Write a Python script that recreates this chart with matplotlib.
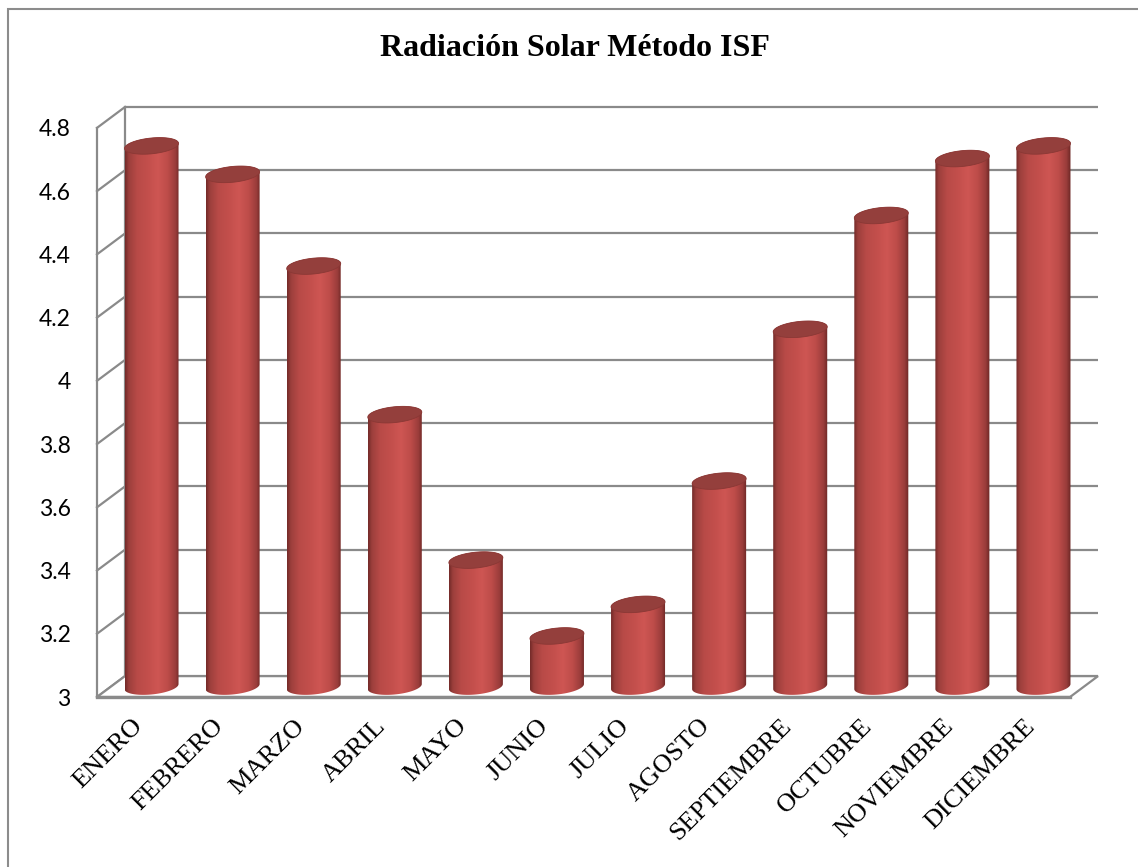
import numpy as np
import matplotlib
matplotlib.use("Agg")
import matplotlib.pyplot as plt
import matplotlib.transforms as mtransforms
from matplotlib.colors import LinearSegmentedColormap
from matplotlib.patches import Polygon, Rectangle

# ---------------- data ----------------
title = "Radiación Solar Método ISF"
months = ["ENERO", "FEBRERO", "MARZO", "ABRIL", "MAYO", "JUNIO", "JULIO",
          "AGOSTO", "SEPTIEMBRE", "OCTUBRE", "NOVIEMBRE", "DICIEMBRE"]
values = [4.71, 4.62, 4.33, 3.86, 3.40, 3.16, 3.26, 3.65, 4.13, 4.49, 4.67, 4.71]
yticks = [3.0, 3.2, 3.4, 3.6, 3.8, 4.0, 4.2, 4.4, 4.6, 4.8]
ytick_labels = ["3", "3.2", "3.4", "3.6", "3.8", "4", "4.2", "4.4", "4.6", "4.8"]

# ---------------- style / geometry ----------------
W, H = 1138, 867
DX, DY = 0.345, 0.066       # 3-D depth offset in data units
HALF_W = 0.333              # cylinder radius (x units)
ELL_B = 0.025               # ellipse semi-axis (y units)
TILT = 0.024                # ellipse tilt
GRID = "#8a8a8a"
YMIN, YMAX = yticks[0], yticks[-1]
n = len(months)

fig = plt.figure(figsize=(W / 100, H / 100), dpi=100)
fig.patch.set_facecolor("white")
ax = fig.add_axes([97 / W, (H - 697) / H, (1098 - 97) / W, (697 - 107) / H])
ax.set_facecolor("none")
for s in ax.spines.values():
    s.set_visible(False)

x0, x1 = -0.5, n - 0.5

# back wall gridlines + side-wall diagonals
for t in yticks:
    ax.plot([x0 + DX, x1 + DX], [t + DY, t + DY], color=GRID, lw=1.6,
            solid_capstyle="butt", zorder=1, clip_on=False)
    ax.plot([x0, x0 + DX], [t, t + DY], color=GRID, lw=1.6, zorder=1, clip_on=False)
ax.plot([x0 + DX, x0 + DX], [YMIN + DY, YMAX + DY], color=GRID, lw=1.6, zorder=1, clip_on=False)
ax.plot([x0, x0], [YMIN, YMAX], color=GRID, lw=1.6, zorder=1, clip_on=False)
floor = Polygon([[x0, YMIN], [x1, YMIN], [x1 + DX, YMIN + DY], [x0 + DX, YMIN + DY]],
                closed=True, fill=True, fc="white", ec=GRID, lw=1.6, zorder=1.5, clip_on=False)
ax.add_patch(floor)
ax.plot([x0, x1], [YMIN, YMIN], color=GRID, lw=2.4, zorder=1.6, clip_on=False)

# cylinder shading
side_cmap = LinearSegmentedColormap.from_list("side", [
    (0.00, "#732a28"), (0.07, "#9c3f3c"), (0.22, "#b84a47"), (0.45, "#c5504d"),
    (0.60, "#ce5653"), (0.78, "#bd4c49"), (0.92, "#9a3d3b"), (1.00, "#6b2624")])
grad = np.linspace(0, 1, 256)[None, :]
th = np.linspace(0, 2 * np.pi, 200)


def ell(cx, cy, t):
    return cx + HALF_W * np.cos(t), cy + ELL_B * np.sin(t) + TILT * HALF_W * np.cos(t)


for i, v in enumerate(values):
    cx = i + DX / 2
    yb = YMIN + DY / 2
    yt = v + DY / 2
    tb = np.linspace(np.pi, 2 * np.pi, 80)
    bx, by = ell(cx, yb, tb)
    tt = np.linspace(0, np.pi, 80)
    tx, ty = ell(cx, yt, tt)
    pts = np.column_stack([np.concatenate([bx, tx]), np.concatenate([by, ty])])
    poly = Polygon(pts, closed=True, fc="none", ec="none", zorder=3)
    ax.add_patch(poly)
    im = ax.imshow(grad, cmap=side_cmap, aspect="auto", interpolation="bilinear",
                   extent=[cx - HALF_W, cx + HALF_W, yb - 2 * ELL_B, yt + 2 * ELL_B],
                   zorder=3)
    im.set_clip_path(poly)
    ex, ey = ell(cx, yt, th)
    ax.add_patch(Polygon(np.column_stack([ex, ey]), closed=True, fc="#943f3c",
                         ec="#8a3835", lw=0.6, zorder=4))

ax.set_xlim(x0, x1 + DX)
ax.set_ylim(YMIN, YMAX + DY)

ax.set_yticks(yticks)
ax.set_yticklabels(ytick_labels, fontfamily="Lato", fontsize=16.5, color="black")
ax.tick_params(axis="y", length=0, pad=19)
ax.set_xticks(np.arange(n))
ax.set_xticklabels(months, rotation=45, ha="right", va="top", rotation_mode="anchor",
                   fontfamily="Liberation Serif", fontsize=19, color="black")
ax.tick_params(axis="x", length=0, pad=13)
shift = mtransforms.ScaledTranslation(-6 / 100, 0, fig.dpi_scale_trans)
for lab in ax.get_xticklabels():
    lab.set_transform(lab.get_transform() + shift)

fig.text(575 / W, 1 - 49 / H, title, ha="center", va="center",
         fontfamily="Liberation Serif", fontweight="bold", fontsize=23)

fig.add_artist(Rectangle((7.5 / W, -0.05), 1.2, (H - 9) / H + 0.05, transform=fig.transFigure,
                         fill=False, ec="#8c8c8c", lw=1.5))

fig.savefig("out.png", dpi=100)
